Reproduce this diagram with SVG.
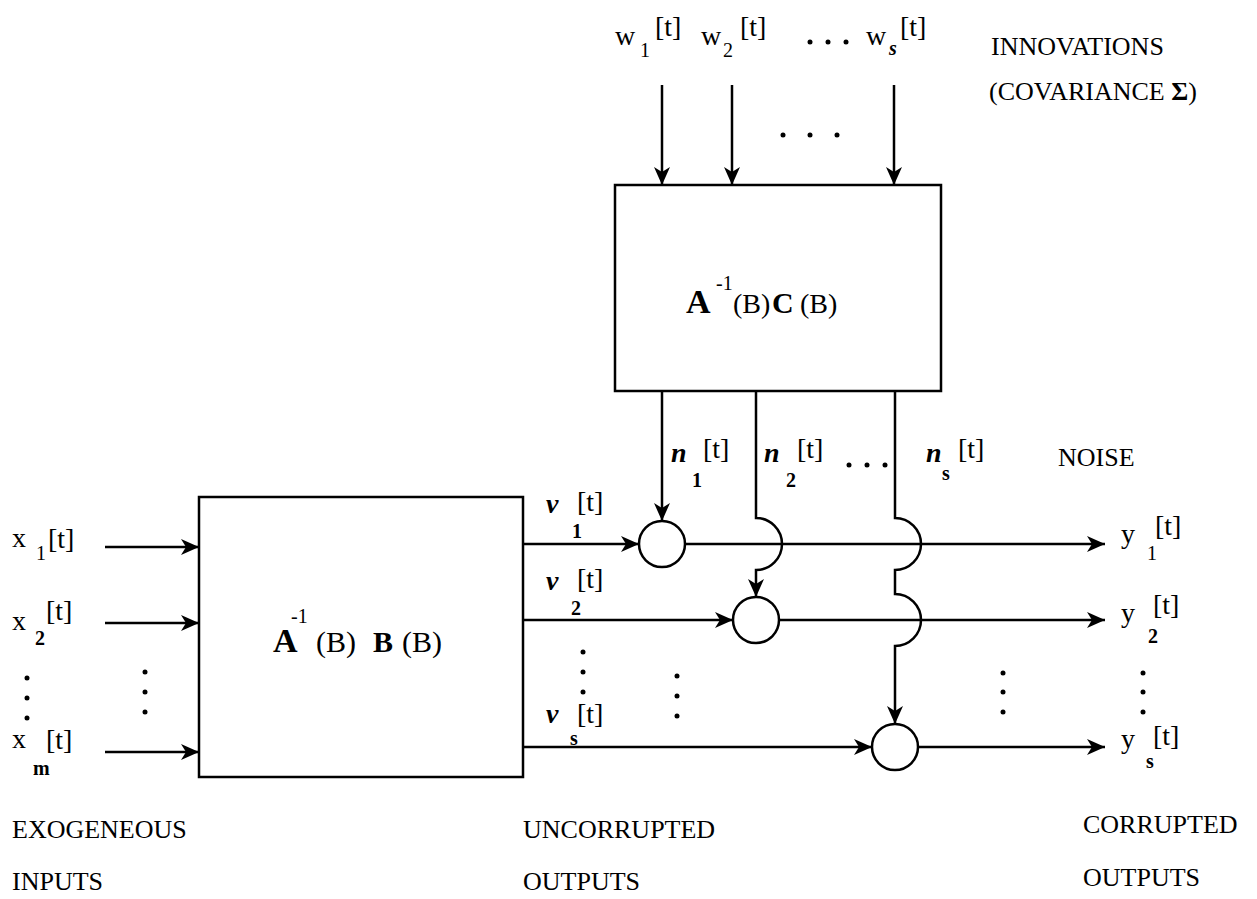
<svg xmlns="http://www.w3.org/2000/svg" width="1257" height="899" viewBox="0 0 1257 899">
<style>
  .t { font-family: "Liberation Serif", "Times New Roman", serif; fill: #000; }
  .lab { font-size: 28px; }
  .sub { font-size: 20px; }
  .cap { font-size: 26px; }
  .it { font-style: italic; font-weight: bold; }
  .b { font-weight: bold; }
  .box { fill: #fff; stroke: #000; stroke-width: 2.5; }
  .sum { fill: #fff; stroke: #000; stroke-width: 2.5; }
  .ln { fill: none; stroke: #000; stroke-width: 2.5; }
  .dot { fill: #000; }
</style>
<defs>
  <marker id="arr" markerUnits="userSpaceOnUse" markerWidth="20" markerHeight="16" refX="18" refY="8" orient="auto">
    <path d="M0,0 L18,8 L0,16 L5,8 Z" fill="#000"/>
  </marker>
</defs>
<rect width="1257" height="899" fill="#fff"/>

<g id="connectors">
  <line class="ln" x1="662" y1="85" x2="662" y2="185" marker-end="url(#arr)"/>
  <line class="ln" x1="732" y1="85" x2="732" y2="185" marker-end="url(#arr)"/>
  <line class="ln" x1="894" y1="85" x2="894" y2="185" marker-end="url(#arr)"/>
  <line class="ln" x1="105" y1="547" x2="199" y2="547" marker-end="url(#arr)"/>
  <line class="ln" x1="105" y1="623" x2="199" y2="623" marker-end="url(#arr)"/>
  <line class="ln" x1="105" y1="752" x2="199" y2="752" marker-end="url(#arr)"/>
  <line class="ln" x1="523" y1="544" x2="639" y2="544" marker-end="url(#arr)"/>
  <line class="ln" x1="523" y1="620" x2="733" y2="620" marker-end="url(#arr)"/>
  <line class="ln" x1="523" y1="747" x2="872" y2="747" marker-end="url(#arr)"/>
  <line class="ln" x1="685" y1="544" x2="1105" y2="544" marker-end="url(#arr)"/>
  <line class="ln" x1="779" y1="620" x2="1105" y2="620" marker-end="url(#arr)"/>
  <line class="ln" x1="918" y1="747" x2="1105" y2="747" marker-end="url(#arr)"/>
  <line class="ln" x1="662" y1="391" x2="662" y2="521" marker-end="url(#arr)"/>
  <path class="ln" d="M756,391 V518 A26,26 0 0 1 756,570 V597" marker-end="url(#arr)"/>
  <path class="ln" d="M895,391 V518 A26,26 0 0 1 895,570 V594 A26,26 0 0 1 895,646 V724" marker-end="url(#arr)"/>
</g>

<g id="box-noise">
  <rect class="box" x="615" y="185" width="326" height="206"/>
  <text class="t b" x="686" y="313" font-size="34">A</text>
  <text class="t" x="716" y="290" font-size="20">-1</text>
  <text class="t" x="733" y="313" font-size="28">(B)</text>
  <text class="t b" x="772" y="313" font-size="30">C</text>
  <text class="t" x="800" y="313" font-size="28">(B)</text>
</g>

<g id="box-exo">
  <rect class="box" x="199" y="497" width="324" height="280"/>
  <text class="t b" x="273" y="652" font-size="34">A</text>
  <text class="t" x="291" y="623" font-size="20">-1</text>
  <text class="t" x="316" y="652" font-size="30">(B)</text>
  <text class="t b" x="373" y="652" font-size="30">B</text>
  <text class="t" x="402" y="652" font-size="30">(B)</text>
</g>

<g id="sum-1"><circle class="sum" cx="662" cy="544" r="23"/></g>
<g id="sum-2"><circle class="sum" cx="756" cy="620" r="23"/></g>
<g id="sum-s"><circle class="sum" cx="895" cy="747" r="23"/></g>

<g id="labels-w">
  <text class="t lab" x="615" y="45">w</text><text class="t sub" x="640" y="57">1</text><text class="t lab" x="655" y="36">[t]</text>
  <text class="t lab" x="701" y="45">w</text><text class="t sub" x="723" y="57">2</text><text class="t lab" x="740" y="36">[t]</text>
  <circle class="dot" cx="810" cy="42" r="2.5"/><circle class="dot" cx="828" cy="42" r="2.5"/><circle class="dot" cx="846" cy="42" r="2.5"/>
  <text class="t lab" x="866" y="45">w</text><text class="t sub it" x="889" y="55">s</text><text class="t lab" x="900" y="36">[t]</text>
  <circle class="dot" cx="783" cy="135" r="2.5"/><circle class="dot" cx="810" cy="135" r="2.5"/><circle class="dot" cx="837" cy="135" r="2.5"/>
</g>

<g id="label-innovations">
  <text class="t cap" x="991" y="55">INNOVATIONS</text>
  <text class="t cap" x="989" y="100">(COVARIANCE <tspan class="b">Σ</tspan>)</text>
</g>

<g id="labels-n">
  <text class="t lab it" x="671" y="462">n</text><text class="t sub b" x="692" y="487">1</text><text class="t lab" x="703" y="458">[t]</text>
  <text class="t lab it" x="764" y="462">n</text><text class="t sub b" x="786" y="487">2</text><text class="t lab" x="797" y="458">[t]</text>
  <circle class="dot" cx="849" cy="465" r="2.5"/><circle class="dot" cx="867" cy="465" r="2.5"/><circle class="dot" cx="885" cy="465" r="2.5"/>
  <text class="t lab it" x="926" y="462">n</text><text class="t sub b" x="942" y="480">s</text><text class="t lab" x="958" y="458">[t]</text>
  <text class="t cap" x="1058" y="466">NOISE</text>
</g>

<g id="labels-x">
  <text class="t lab" x="12" y="547">x</text><text class="t sub" x="36" y="560">1</text><text class="t lab" x="48" y="548">[t]</text>
  <text class="t lab" x="12" y="630">x</text><text class="t sub b" x="35" y="645">2</text><text class="t lab" x="46" y="620">[t]</text>
  <circle class="dot" cx="27" cy="678" r="2.5"/><circle class="dot" cx="27" cy="698" r="2.5"/><circle class="dot" cx="27" cy="718" r="2.5"/>
  <circle class="dot" cx="145" cy="672" r="2.5"/><circle class="dot" cx="145" cy="692" r="2.5"/><circle class="dot" cx="145" cy="712" r="2.5"/>
  <text class="t lab" x="12" y="748">x</text><text class="t sub b" x="33" y="775">m</text><text class="t lab" x="46" y="749">[t]</text>
</g>

<g id="labels-v">
  <text class="t lab it" x="546" y="513">v</text><text class="t sub b" x="572" y="538">1</text><text class="t lab" x="577" y="511">[t]</text>
  <text class="t lab it" x="546" y="590">v</text><text class="t sub b" x="571" y="615">2</text><text class="t lab" x="577" y="588">[t]</text>
  <circle class="dot" cx="583" cy="652" r="2.5"/><circle class="dot" cx="583" cy="672" r="2.5"/><circle class="dot" cx="583" cy="692" r="2.5"/>
  <circle class="dot" cx="677" cy="676" r="2.5"/><circle class="dot" cx="677" cy="696" r="2.5"/><circle class="dot" cx="677" cy="716" r="2.5"/>
  <text class="t lab it" x="546" y="723">v</text><text class="t sub b" x="570" y="745">s</text><text class="t lab" x="577" y="723">[t]</text>
</g>

<g id="labels-y">
  <text class="t lab" x="1121" y="543">y</text><text class="t sub" x="1147" y="560">1</text><text class="t lab" x="1155" y="535">[t]</text>
  <text class="t lab" x="1121" y="622">y</text><text class="t sub b" x="1148" y="643">2</text><text class="t lab" x="1153" y="614">[t]</text>
  <circle class="dot" cx="1003" cy="673" r="2.5"/><circle class="dot" cx="1003" cy="692" r="2.5"/><circle class="dot" cx="1003" cy="712" r="2.5"/>
  <circle class="dot" cx="1143" cy="673" r="2.5"/><circle class="dot" cx="1143" cy="692" r="2.5"/><circle class="dot" cx="1143" cy="712" r="2.5"/>
  <text class="t lab" x="1121" y="748">y</text><text class="t sub b" x="1146" y="768">s</text><text class="t lab" x="1153" y="745">[t]</text>
</g>

<g id="labels-bottom">
  <text class="t cap" x="12" y="838">EXOGENEOUS</text>
  <text class="t cap" x="12" y="890">INPUTS</text>
  <text class="t cap" x="523" y="838">UNCORRUPTED</text>
  <text class="t cap" x="523" y="890">OUTPUTS</text>
  <text class="t cap" x="1083" y="833">CORRUPTED</text>
  <text class="t cap" x="1083" y="886">OUTPUTS</text>
</g>
</svg>
